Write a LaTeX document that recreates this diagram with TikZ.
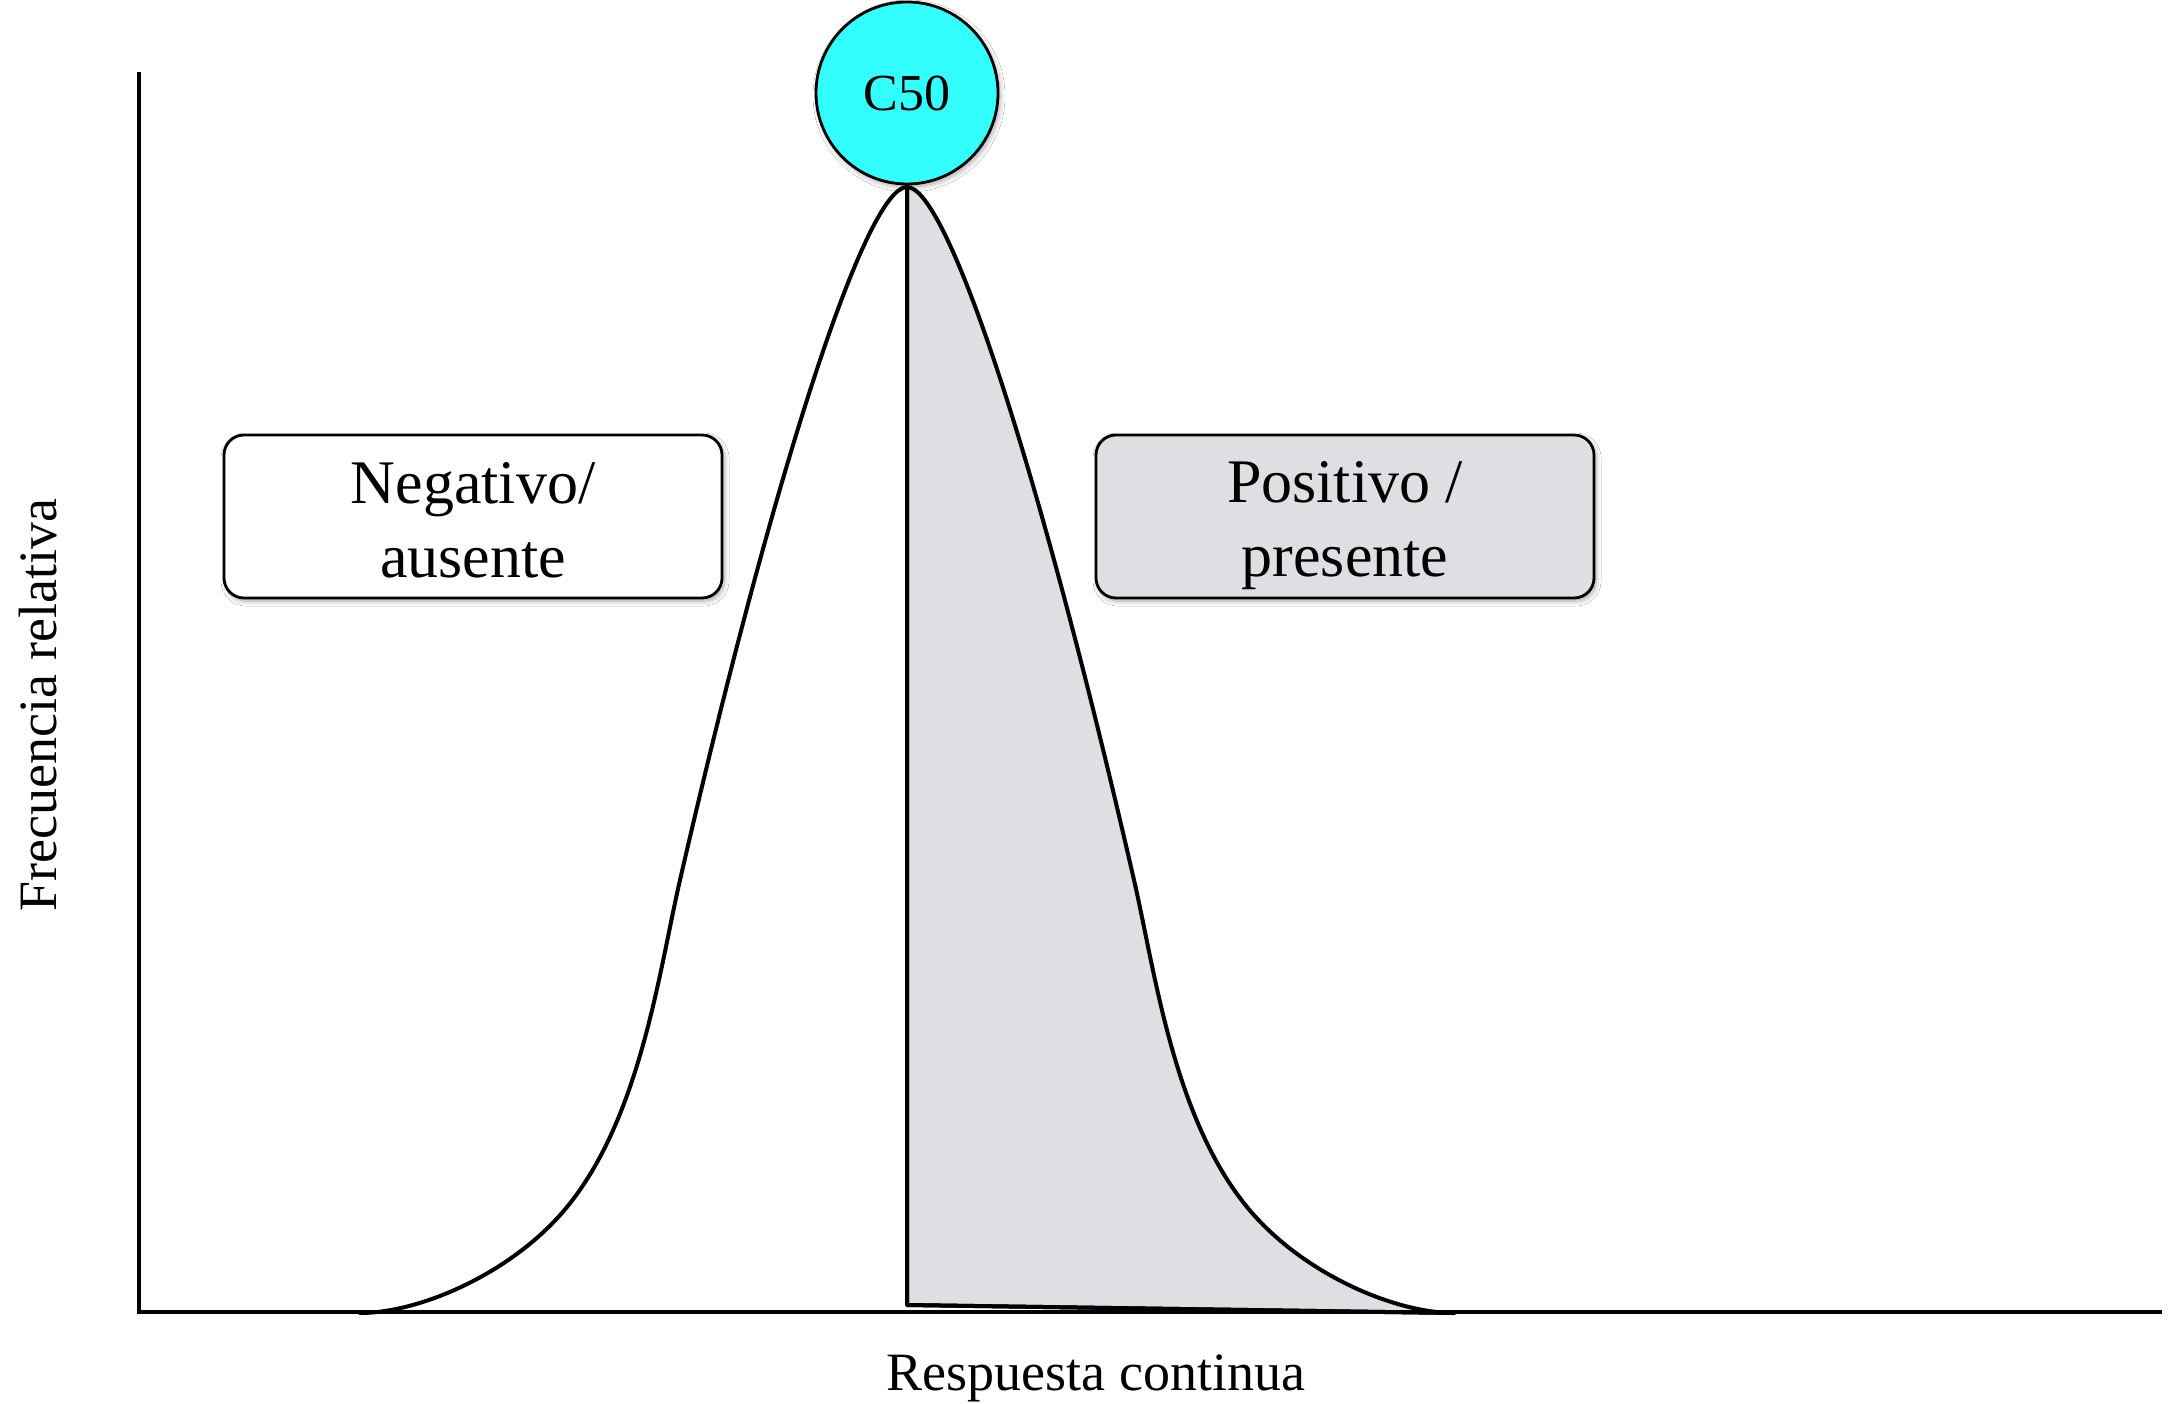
\documentclass[tikz,border=0pt]{standalone}
\usepackage{fontspec}
\setmainfont{Liberation Serif}
\usetikzlibrary{shadows.blur}
\definecolor{capcyan}{RGB}{51,255,255}
\definecolor{areagray}{RGB}{222,223,226}
\tikzset{
  axisline/.style={line width=3.5pt},
  curveline/.style={line width=4pt, line join=round, line cap=round},
  softshadow/.style={blur shadow={shadow xshift=2pt, shadow yshift=-3pt,
      shadow blur radius=5pt, shadow blur steps=8, shadow opacity=35}},
  labelbox/.style={draw, line width=2.8pt, rounded corners=20pt,
      minimum width=498pt, minimum height=163pt, inner sep=0pt, align=center,
      font=\fontsize{62}{74}\selectfont, softshadow},
  axislabel/.style={font=\fontsize{54}{60}\selectfont},
}
% fixed line height for the two-line box labels
\newcommand{\boxstrut}{\rule[-13pt]{0pt}{73pt}}
\begin{document}
\begin{tikzpicture}[x=1pt, y=-1pt]
  \useasboundingbox (0,0) rectangle (2173,1404);
  \fill[white] (0,0) rectangle (2173,1404);

  \coordinate (leftfoot) at (360,1313);
  \coordinate (peak) at (907,187);
  \coordinate (rightfoot) at (1454,1313);
  \coordinate (cutbase) at (907,1305);

  % shaded right half of the bell, closed by a slanted lower edge
  \draw[curveline, fill=areagray] (cutbase) -- (peak)
     .. controls (947,187) and (1037.4,460) .. (1134,880)
     .. controls (1154.7,970) and (1173.2,1117) .. (1247,1207)
     .. controls (1301.1,1273) and (1394,1313) .. (rightfoot) -- cycle;

  % axes
  \coordinate (origin) at (139,1312);
  \coordinate (ytop) at (139,72);
  \coordinate (xend) at (2162,1312);
  \draw[axisline] (ytop) -- (origin) -- (xend);

  % left half of the bell
  \draw[curveline] (leftfoot)
     .. controls (420,1313) and (512.9,1273) .. (567,1207)
     .. controls (640.8,1117) and (659.3,970) .. (680,880)
     .. controls (776.6,460) and (867,187) .. (peak);
  % threshold line and lower edge of the shaded part, over the axis
  \draw[curveline] (peak) -- (cutbase) -- (rightfoot);

  % threshold marker
  \node[circle, draw, line width=2.8pt, fill=capcyan, minimum size=182pt,
        inner sep=0pt, font=\fontsize{52}{60}\selectfont, softshadow]
        (c50) at (907,93) {C50};

  % class boxes
  \node[labelbox, fill=white] (neg) at (473,516.5)
       {Negativo/\boxstrut\\ausente\boxstrut};
  \node[labelbox, fill=areagray] (pos) at (1345,516.5)
       {Positivo /\boxstrut\\presente\boxstrut};

  % axis titles
  \node[axislabel, anchor=base] (xlab) at (1096,1390) {Respuesta continua};
  \node[axislabel, anchor=base, rotate=90] (ylab) at (56,705) {Frecuencia relativa};
\end{tikzpicture}
\end{document}
